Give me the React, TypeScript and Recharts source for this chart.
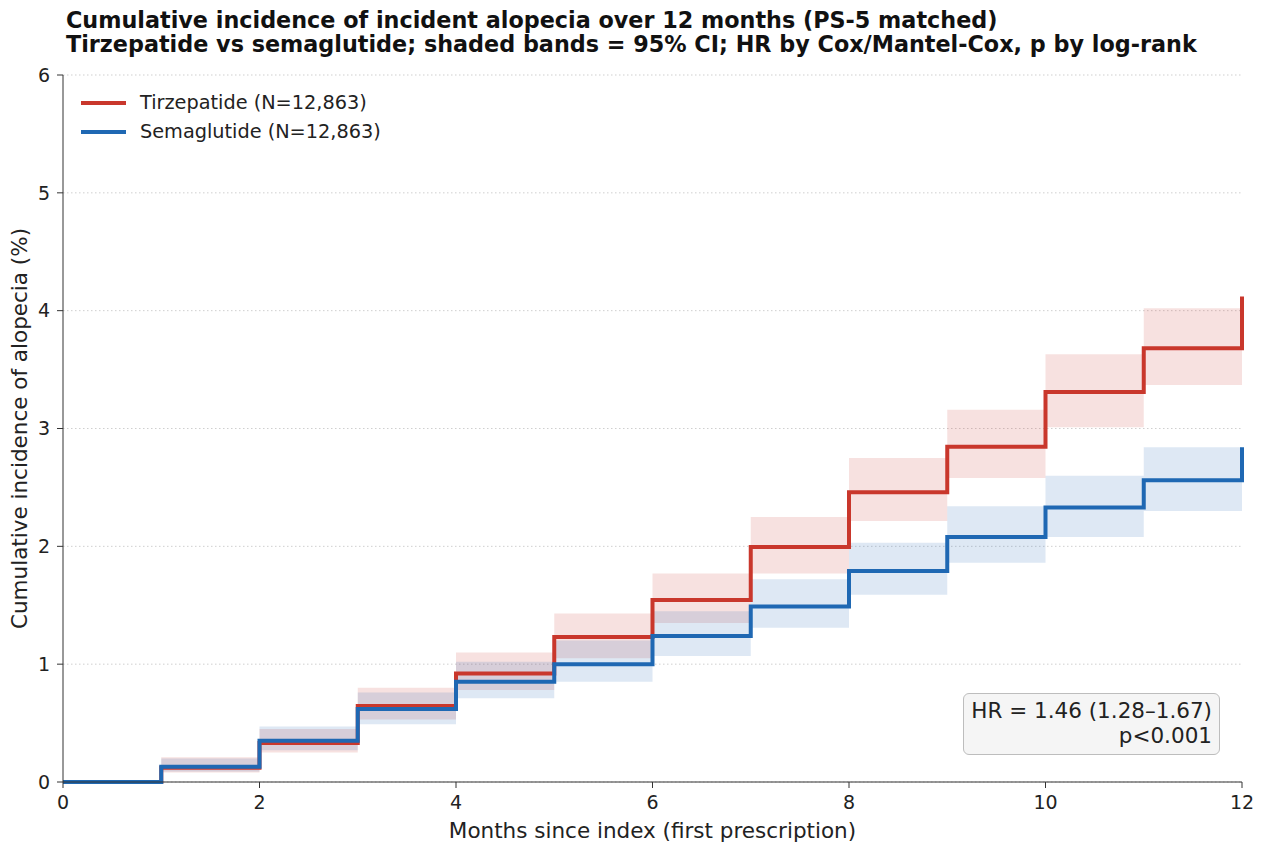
import React from "react";
import {
  ComposedChart,
  Line,
  Area,
  XAxis,
  YAxis,
  CartesianGrid,
  Legend,
  Label,
} from "recharts";

// months since index
const months = [0, 1, 2, 3, 4, 5, 6, 7, 8, 9, 10, 11, 12];

// cumulative incidence (%) and 95% CI per arm
const tirzepatide = [0, 0.12, 0.33, 0.645, 0.92, 1.23, 1.545, 1.995, 2.46, 2.845, 3.31, 3.68, 4.12];
const tirzLower = [0, 0.08, 0.25, 0.53, 0.78, 1.05, 1.35, 1.77, 2.215, 2.58, 3.01, 3.37, 3.78];
const tirzUpper = [0, 0.21, 0.45, 0.8, 1.1, 1.43, 1.77, 2.25, 2.75, 3.16, 3.63, 4.02, 4.47];

const semaglutide = [0, 0.13, 0.35, 0.62, 0.85, 1.0, 1.24, 1.49, 1.79, 2.08, 2.33, 2.56, 2.84];
const semaLower = [0, 0.09, 0.27, 0.49, 0.71, 0.85, 1.07, 1.31, 1.59, 1.86, 2.08, 2.3, 2.55];
const semaUpper = [0, 0.2, 0.47, 0.76, 1.02, 1.2, 1.45, 1.72, 2.03, 2.34, 2.6, 2.84, 3.16];

const seriesNames = ["Tirzepatide (N=12,863)", "Semaglutide (N=12,863)"];

const xTicks = [0, 2, 4, 6, 8, 10, 12];
const yTicks = [0, 1, 2, 3, 4, 5, 6];

const RED = "#c9372c";
const BLUE = "#1f68b3";
const FONT = "'DejaVu Sans', sans-serif";

const data = months.map((m, i) => ({
  month: m,
  tirz: tirzepatide[i],
  sema: semaglutide[i],
  tirzBand: [tirzLower[i], tirzUpper[i]],
  semaBand: [semaLower[i], semaUpper[i]],
}));

function LegendBox({ payload }: any) {
  const items = (payload || [])
    .filter((p: any) => p.type !== "none")
    .sort((a: any, b: any) => seriesNames.indexOf(a.value) - seriesNames.indexOf(b.value));
  return (
    <div style={{ fontFamily: FONT, fontSize: 19.3, color: "#222" }}>
      {items.map((p: any) => (
        <div key={p.value} style={{ display: "flex", alignItems: "center", height: 29 }}>
          <span
            style={{
              display: "inline-block",
              width: 45,
              height: 4,
              background: p.color,
              marginRight: 14,
            }}
          />
          <span>{p.value}</span>
        </div>
      ))}
    </div>
  );
}

export default function App() {
  return (
    <div
      style={{
        position: "absolute",
        left: 0,
        top: 0,
        width: 1262,
        height: 851,
        background: "#fff",
        fontFamily: FONT,
      }}
    >
      <div
        style={{
          position: "absolute",
          left: 66,
          top: 8,
          fontSize: 22.3,
          fontWeight: "bold",
          lineHeight: "24px",
          color: "#111",
          whiteSpace: "nowrap",
        }}
      >
        <div>Cumulative incidence of incident alopecia over 12 months (PS-5 matched)</div>
        <div>Tirzepatide vs semaglutide; shaded bands = 95% CI; HR by Cox/Mantel-Cox, p by log-rank</div>
      </div>

      <ComposedChart
        width={1262}
        height={851}
        data={data}
        margin={{ top: 75, right: 20, bottom: 0, left: 0 }}
      >
        <CartesianGrid
          vertical={false}
          stroke="#cfcfcf"
          strokeDasharray="1.5 2.5"
          strokeWidth={1}
        />
        <XAxis
          dataKey="month"
          type="number"
          domain={[0, 12]}
          ticks={xTicks}
          height={69}
          tickSize={6}
          tickMargin={8}
          stroke="#333"
          tick={{ fill: "#222", fontSize: 19, fontFamily: FONT }}
        >
          <Label
            value="Months since index (first prescription)"
            position="insideBottom"
            offset={13}
            style={{ fill: "#222", fontSize: 21.5, fontFamily: FONT }}
          />
        </XAxis>
        <YAxis
          type="number"
          domain={[0, 6]}
          ticks={yTicks}
          width={63}
          tickSize={6}
          tickMargin={7}
          stroke="#333"
          tick={{ fill: "#222", fontSize: 19, fontFamily: FONT }}
        >
          <Label
            value="Cumulative incidence of alopecia (%)"
            angle={-90}
            position="insideLeft"
            offset={19}
            style={{ fill: "#222", fontSize: 21.5, fontFamily: FONT, textAnchor: "middle" }}
          />
        </YAxis>

        <Area
          dataKey="tirzBand"
          type="stepAfter"
          stroke="none"
          fill={RED}
          fillOpacity={0.15}
          legendType="none"
          isAnimationActive={false}
          activeDot={false}
        />
        <Area
          dataKey="semaBand"
          type="stepAfter"
          stroke="none"
          fill={BLUE}
          fillOpacity={0.15}
          legendType="none"
          isAnimationActive={false}
          activeDot={false}
        />
        <Line
          dataKey="tirz"
          name={seriesNames[0]}
          type="stepAfter"
          stroke={RED}
          strokeWidth={4}
          dot={false}
          activeDot={false}
          isAnimationActive={false}
        />
        <Line
          dataKey="sema"
          name={seriesNames[1]}
          type="stepAfter"
          stroke={BLUE}
          strokeWidth={4}
          dot={false}
          activeDot={false}
          isAnimationActive={false}
        />
        <Legend
          layout="horizontal"
          verticalAlign="middle"
          content={<LegendBox />}
          wrapperStyle={{ position: "absolute", left: 81, top: 88, width: 400 }}
        />
      </ComposedChart>

      <div
        style={{
          position: "absolute",
          left: 963,
          top: 693,
          width: 257,
          height: 62,
          boxSizing: "border-box",
          border: "1.5px solid #bdbdbd",
          borderRadius: 6,
          background: "#f5f5f5",
          textAlign: "right",
          paddingRight: 7,
          paddingTop: 4,
          fontSize: 21.5,
          lineHeight: "25px",
          color: "#222",
          whiteSpace: "nowrap",
        }}
      >
        <div>HR = 1.46 (1.28–1.67)</div>
        <div>p&lt;0.001</div>
      </div>
    </div>
  );
}
